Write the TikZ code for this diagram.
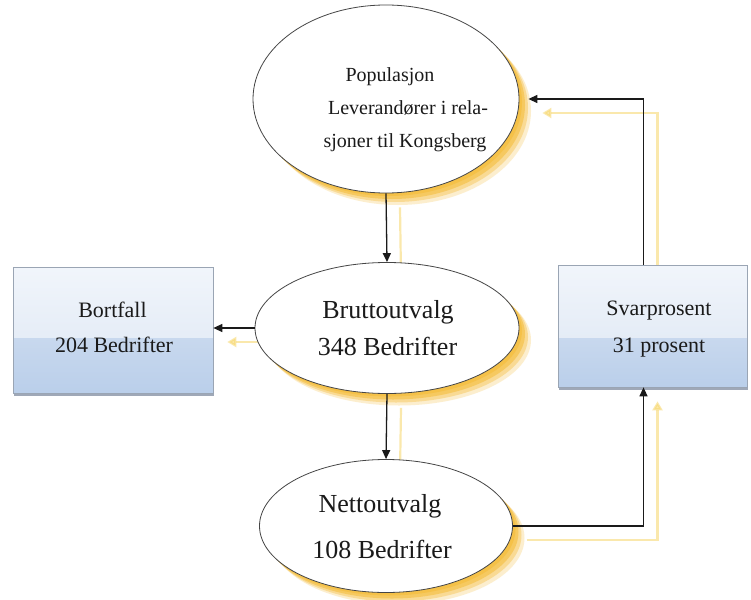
\documentclass[tikz,border=0pt]{standalone}
\usepackage{fontspec}
\setmainfont{Liberation Serif}
\usetikzlibrary{shapes.geometric,arrows.meta,shadows,backgrounds}

\definecolor{ink}{HTML}{1A1A1A}
\definecolor{rim}{HTML}{454545}
\definecolor{glow}{HTML}{F5BE3E}
\definecolor{trail}{HTML}{F7D669}
\definecolor{boxA}{HTML}{F1F5FB}
\definecolor{boxB}{HTML}{DCE6F3}
\definecolor{boxC}{HTML}{C8D8EE}
\definecolor{boxD}{HTML}{BACFEA}
\definecolor{boxrim}{HTML}{9AA5B4}
\definecolor{boxfoot}{HTML}{8793A6}

\begin{document}
\begin{tikzpicture}[x=1pt,y=-1pt,
  oval/.style={ellipse, draw=rim, line width=0.8pt, fill=white, inner sep=0pt,
    general shadow={fill=glow, fill opacity=0.25, shadow xshift=12pt, shadow yshift=-12pt},
    general shadow={fill=glow, fill opacity=0.4, shadow xshift=9pt, shadow yshift=-9pt},
    general shadow={fill=glow, fill opacity=0.6, shadow xshift=6pt, shadow yshift=-6pt},
    general shadow={fill=glow, fill opacity=0.7, shadow xshift=3pt, shadow yshift=-3pt}},
  infobox/.style={rectangle, draw=boxrim, line width=0.7pt, inner sep=0pt,
    general shadow={fill=boxfoot, fill opacity=0.8, shadow xshift=0.5pt, shadow yshift=-2.5pt},
    path picture={
      \shade[top color=boxA, bottom color=boxB]
        (path picture bounding box.north west) rectangle ([yshift=-#1]path picture bounding box.north east);
      \shade[top color=boxC, bottom color=boxD]
        ([yshift=-#1]path picture bounding box.north west) rectangle (path picture bounding box.south east);
    }},
  flow/.style={draw=ink, line width=1.3pt, -{Triangle[length=9pt,width=8pt]}},
  flowshade/.style={draw=trail, line width=2.2pt, opacity=0.55, -{Triangle[length=9pt,width=10pt]}},
  smalltext/.style={anchor=base, inner sep=0pt, font=\fontsize{20}{24}\selectfont, text=ink},
  midtext/.style={anchor=base, inner sep=0pt, font=\fontsize{22}{26}\selectfont, text=ink},
  bigtext/.style={anchor=base, inner sep=0pt, font=\fontsize{26}{30}\selectfont, text=ink},
  sh/.style={shift={(14pt,-14pt)}}]

  \useasboundingbox (0,0) rectangle (751,599);
  \begin{scope}[on background layer]
    \fill[white] (0,0) rectangle (751,599);
  \end{scope}

  % ellipses
  \node[oval, minimum width=266pt, minimum height=188pt] (pop) at (386,99) {};
  \node[oval, minimum width=264pt, minimum height=131pt] (brutto) at (387,328) {};
  \node[oval, minimum width=253pt, minimum height=133pt] (netto) at (386,526) {};

  % side boxes
  \node[infobox=71pt, minimum width=200pt, minimum height=126pt] (bort) at (113,330) {};
  \node[infobox=73pt, minimum width=189pt, minimum height=122pt] (svar) at (652.5,326) {};

  % texts
  \node[smalltext] (popA) at (390,82) {Populasjon};
  \node[smalltext] (popB) at (408,114) {Leverandører i rela-};
  \node[smalltext] (popC) at (405,147) {sjoner til Kongsberg};

  \node[bigtext] (brA) at (388,318) {Bruttoutvalg};
  \node[bigtext] (brB) at (387.5,355) {348 Bedrifter};

  \node[bigtext] (neA) at (380,512) {Nettoutvalg};
  \node[bigtext] (neB) at (382,558) {108 Bedrifter};

  \node[midtext] (boA) at (112.5,317) {Bortfall};
  \node[midtext] (boB) at (114,352) {204 Bedrifter};

  \node[midtext] (svA) at (659,315) {Svarprosent};
  \node[midtext] (svB) at (659,352) {31 prosent};

  % connector shadows, offset down and right
  \begin{scope}[on background layer]
    \draw[flowshade] ([sh]pop.south) -- ([sh]brutto.north);
    \draw[flowshade] ([sh]brutto.south) -- ([sh]netto.north);
    \draw[flowshade] ([sh]brutto.west) -- ([sh]brutto.west -| bort.east);
    \draw[flowshade] ([sh]netto.east) -| ([sh,xshift=-9pt]svar.south);
    \draw[flowshade] ([sh,xshift=-9pt]svar.north) |- ([sh,xshift=9pt]pop.east);
  \end{scope}

  % connectors
  \draw[flow] (pop.south) -- (brutto.north);
  \draw[flow] (brutto.south) -- (netto.north);
  \draw[flow] (brutto.west) -- (brutto.west -| bort.east);
  \draw[flow] (netto.east) -| ([xshift=-9pt]svar.south);
  \draw[flow] ([xshift=-9pt]svar.north) |- ([xshift=9pt]pop.east);
\end{tikzpicture}
\end{document}
